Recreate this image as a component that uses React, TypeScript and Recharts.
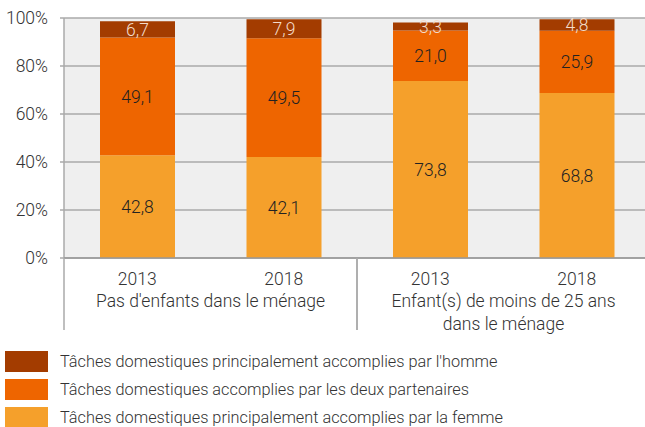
import { BarChart, Bar, XAxis, YAxis, CartesianGrid, LabelList } from "recharts"

const years = ["2013", "2018", "2013", "2018"]
const groups = [
  "Pas d'enfants dans le ménage",
  "Pas d'enfants dans le ménage",
  "Enfant(s) de moins de 25 ans\ndans le ménage",
  "Enfant(s) de moins de 25 ans\ndans le ménage",
]
const femme = [42.8, 42.1, 73.8, 68.8]
const deux = [49.1, 49.5, 21.0, 25.9]
const homme = [6.7, 7.9, 3.3, 4.8]
const yTicks = [0, 20, 40, 60, 80, 100]

const SERIES = [
  { key: "homme", name: "Tâches domestiques principalement accomplies par l'homme", color: "#a33c00" },
  { key: "deux", name: "Tâches domestiques accomplies par les deux partenaires", color: "#ee6500" },
  { key: "femme", name: "Tâches domestiques principalement accomplies par la femme", color: "#f5a02b" },
]

const data = years.map((year, i) => ({
  year,
  group: groups[i],
  femme: femme[i],
  deux: deux[i],
  homme: homme[i],
}))

const FONT = "Roboto, 'Noto Sans', sans-serif"
const AXIS_FS = 17.5
const fmt = (v: number) => v.toFixed(1).replace(".", ",")

function GroupTick(props: any) {
  const { x, y, payload } = props
  const lines = String(payload.value).split("\n")
  const half = payload.offset || 0
  return (
    <g>
      <line x1={x - half} x2={x - half} y1={y - 20} y2={y + 52} stroke="#aaa" strokeWidth={1.5} />
      <line x1={x + half} x2={x + half} y1={y - 20} y2={y + 52} stroke="#aaa" strokeWidth={1.5} />
      <text x={x} y={y} textAnchor="middle" fill="#333" fontSize={AXIS_FS} fontFamily={FONT} fontWeight={300}>
        {lines.map((line, i) => (
          <tspan key={i} x={x} dy={i === 0 ? 29 : 23}>
            {line}
          </tspan>
        ))}
      </text>
    </g>
  )
}

export default function App() {
  return (
    <div style={{ position: "absolute", left: 0, top: 0, width: 645, height: 427, overflow: "hidden", fontFamily: FONT }}>
      <BarChart
        width={650}
        height={340}
        data={data}
        margin={{ top: 18, right: 0, bottom: 0, left: 0 }}
        barCategoryGap={36}
      >
        <CartesianGrid vertical={false} stroke="#aaa" strokeWidth={1.5} fill="#efefef" />
        <YAxis
          type="number"
          domain={[0, 100]}
          ticks={yTicks}
          width={64}
          tickFormatter={(v) => `${v}%`}
          tick={{ fill: "#333", fontSize: AXIS_FS, fontFamily: FONT, fontWeight: 300 }}
          axisLine={{ stroke: "#aaa", strokeWidth: 1.5 }}
          tickLine={{ stroke: "#aaa", strokeWidth: 1.5 }}
          tickSize={4}
          tickMargin={12}
        />
        <XAxis
          dataKey="year"
          height={20}
          tick={{ fill: "#333", fontSize: AXIS_FS, fontFamily: FONT, fontWeight: 300 }}
          axisLine={{ stroke: "#999", strokeWidth: 1.5 }}
          tickLine={false}
          tickSize={0}
          tickMargin={15}
        />
        <XAxis
          xAxisId="group"
          dataKey="group"
          allowDuplicatedCategory={false}
          height={62}
          axisLine={false}
          tickLine={false}
          tickSize={0}
          tickMargin={0}
          tick={<GroupTick />}
        />
        <Bar dataKey="femme" stackId="a" fill="#f5a02b" isAnimationActive={false}>
          <LabelList dataKey="femme" position="center" formatter={fmt} fill="#222" fontSize={AXIS_FS} fontFamily={FONT} fontWeight={300} />
        </Bar>
        <Bar dataKey="deux" stackId="a" fill="#ee6500" isAnimationActive={false}>
          <LabelList dataKey="deux" position="center" formatter={fmt} fill="#222" fontSize={AXIS_FS} fontFamily={FONT} fontWeight={300} />
        </Bar>
        <Bar dataKey="homme" stackId="a" fill="#a33c00" isAnimationActive={false}>
          <LabelList dataKey="homme" position="center" formatter={fmt} fill="#f3dccb" fontSize={AXIS_FS} fontFamily={FONT} fontWeight={300} />
        </Bar>
      </BarChart>
      <div style={{ position: "absolute", left: 5, top: 351 }}>
        {SERIES.map((s) => (
          <div key={s.key} style={{ display: "flex", alignItems: "center", height: 21, marginBottom: 7 }}>
            <span style={{ width: 43, height: 21, background: s.color, display: "inline-block", flexShrink: 0 }} />
            <span style={{ marginLeft: 12, fontSize: 16.3, color: "#333", fontWeight: 300, lineHeight: "21px", whiteSpace: "nowrap" }}>{s.name}</span>
          </div>
        ))}
      </div>
    </div>
  )
}
